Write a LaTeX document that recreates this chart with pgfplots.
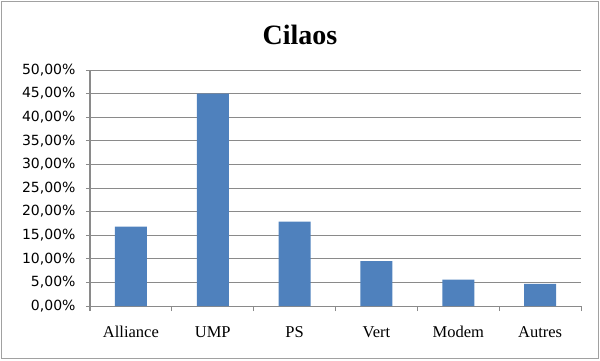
\documentclass[border=0pt]{standalone}
\usepackage{fontspec}
\setmainfont{Liberation Serif}
\newfontfamily\ticksans{DejaVu Sans}
\usepackage{pgfplots}
\pgfplotsset{compat=1.18}
\definecolor{barblue}{HTML}{4F81BD}
\definecolor{gridgray}{HTML}{8A8A8A}
\begin{document}
\begin{tikzpicture}
\useasboundingbox (0,0) rectangle (600pt,360pt);
\draw[color=gridgray!80, line width=1pt] (1.5pt,1.5pt) rectangle (598.5pt,358.5pt);
\node[font=\bfseries\fontsize{28}{28}\selectfont] at (300pt,325pt) {Cilaos};
\begin{axis}[
  at={(90pt,54pt)}, anchor=south west,
  scale only axis, width=491pt, height=236pt,
  xmin=-0.5, xmax=5.5, ymin=0, ymax=50,
  axis x line*=bottom, axis y line*=left,
  axis line style={gridgray, line width=1pt, -},
  tick align=outside,
  xtick={0,...,5},
  xticklabels={Alliance,UMP,PS,Vert,Modem,Autres},
  major x tick style={draw=none},
  minor xtick={-0.5,0.5,...,5.5},
  minor tick length=5pt,
  major tick length=4pt,
  tick style={gridgray, line width=1pt},
  ytick={0,5,...,50},
  ymajorgrids,
  grid style={gridgray, line width=1pt},
  /pgf/number format/assume math mode=true,
  yticklabel={\pgfmathprintnumber[fixed,fixed zerofill,precision=2,use comma]{\tick}\%},
  yticklabel style={font=\ticksans\fontsize{14}{14}\selectfont, xshift=-7pt},
  xticklabel style={font=\fontsize{16.5}{16.5}\selectfont, yshift=-13pt},
]
\addplot[ybar, fill=barblue, draw=none, bar width=32pt] coordinates {(0,16.8)(1,45.0)(2,17.9)(3,9.5)(4,5.6)(5,4.7)};
\end{axis}
\end{tikzpicture}
\end{document}
